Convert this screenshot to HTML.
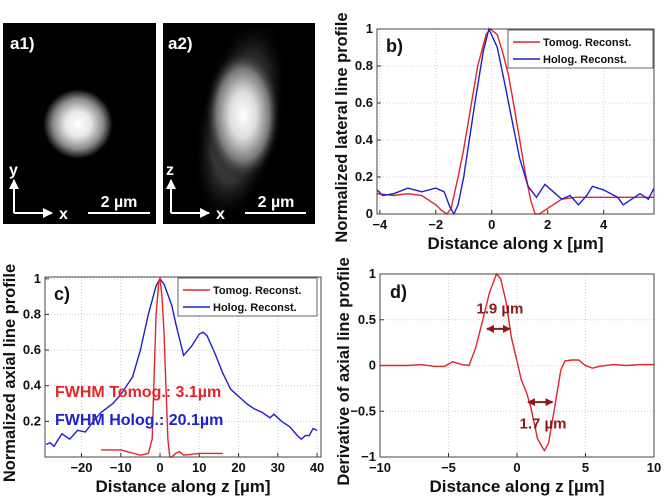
<!DOCTYPE html>
<html><head><meta charset="utf-8"><style>
html,body{margin:0;padding:0;background:#fff}
svg{display:block;font-family:"Liberation Sans",sans-serif}
.tk{font-size:13px;font-weight:bold;fill:#111}
.lab{font-size:17px;font-weight:bold;fill:#111}
.ylab{font-size:16.5px;font-weight:bold;fill:#111}
.lg{font-size:11px;font-weight:bold;fill:#111}
.pl{font-size:18px;font-weight:bold;fill:#111}
</style></head><body>
<svg id="fig" width="664" height="503" viewBox="0 0 664 503">
<defs>
<radialGradient id="g1"><stop offset="0" stop-color="#fff"/><stop offset="0.35" stop-color="#e8e8e8"/><stop offset="0.7" stop-color="#888"/><stop offset="0.9" stop-color="#222"/><stop offset="1" stop-color="#000" stop-opacity="0"/></radialGradient>
<radialGradient id="g2"><stop offset="0" stop-color="#fff"/><stop offset="0.35" stop-color="#ddd"/><stop offset="0.7" stop-color="#777"/><stop offset="1" stop-color="#000" stop-opacity="0"/></radialGradient>
<radialGradient id="g3"><stop offset="0" stop-color="#666"/><stop offset="0.6" stop-color="#333"/><stop offset="1" stop-color="#000" stop-opacity="0"/></radialGradient>
<clipPath id="c1"><rect x="3" y="23" width="153" height="201"/></clipPath>
<clipPath id="c2"><rect x="163" y="23" width="152" height="201"/></clipPath>
<marker id="ah" viewBox="0 0 10 10" refX="9" refY="5" markerWidth="5" markerHeight="5" orient="auto-start-reverse"><path d="M0,0L10,5L0,10z" fill="#fff"/></marker>
<marker id="ar" viewBox="0 0 10 10" refX="9" refY="5" markerWidth="4" markerHeight="4" orient="auto-start-reverse"><path d="M0,0L10,5L0,10z" fill="#8b1a1a"/></marker>
</defs>
<g>
<rect x="3" y="23" width="153" height="201" fill="#000"/>
<g clip-path="url(#c1)"><circle cx="78" cy="124" r="36" fill="url(#g1)"/></g>
<text x="10" y="49" fill="#fff" font-size="17" font-weight="bold">a1)</text>
<line x1="14" y1="213" x2="14" y2="180" stroke="#fff" stroke-width="2" marker-end="url(#ah)"/>
<line x1="14" y1="213" x2="52" y2="213" stroke="#fff" stroke-width="2" marker-end="url(#ah)"/>
<text x="9" y="175" fill="#fff" font-size="16" font-weight="bold">y</text>
<text x="59" y="219" fill="#fff" font-size="16" font-weight="bold">x</text>
<line x1="88" y1="213" x2="150" y2="213" stroke="#fff" stroke-width="2"/>
<text x="119" y="207" fill="#fff" font-size="16" font-weight="bold" text-anchor="middle">2 µm</text>
</g>
<g>
<rect x="163" y="23" width="152" height="201" fill="#000"/>
<g clip-path="url(#c2)">
<ellipse cx="240" cy="120" rx="42" ry="105" fill="url(#g3)" transform="rotate(12 240 120)"/>
<ellipse cx="243" cy="115" rx="38" ry="66" fill="url(#g2)"/>
</g>
<text x="168" y="49" fill="#fff" font-size="17" font-weight="bold">a2)</text>
<line x1="171" y1="213" x2="171" y2="180" stroke="#fff" stroke-width="2" marker-end="url(#ah)"/>
<line x1="171" y1="213" x2="209" y2="213" stroke="#fff" stroke-width="2" marker-end="url(#ah)"/>
<text x="166" y="175" fill="#fff" font-size="16" font-weight="bold">z</text>
<text x="216" y="219" fill="#fff" font-size="16" font-weight="bold">x</text>
<line x1="245" y1="213" x2="306" y2="213" stroke="#fff" stroke-width="2"/>
<text x="276" y="207" fill="#fff" font-size="16" font-weight="bold" text-anchor="middle">2 µm</text>
</g>
</svg>
<script>
// Panel b data
const bRedX=[-4.1,-3.5,-3,-2.5,-2,-1.8,-1.6,-1.45,-1.2,-1,-0.7,-0.5,-0.2,-0.05,0.2,0.4,0.6,0.8,1,1.2,1.4,1.55,1.7,2,2.5,3,4,5,5.8];
const bRedY=[0.11,0.10,0.11,0.10,0.05,0.02,0,0.03,0.2,0.35,0.62,0.8,0.97,1,0.97,0.87,0.75,0.58,0.4,0.22,0.07,0,0,0.03,0.08,0.09,0.09,0.09,0.09];
const bBlueX=[-4.1,-3.9,-3.5,-3,-2.5,-2,-1.7,-1.5,-1.35,-1.2,-1,-0.8,-0.6,-0.3,-0.1,0.2,0.5,0.8,1,1.3,1.6,1.9,2.2,2.5,2.8,3.1,3.4,3.6,4,4.5,4.7,5,5.3,5.6,5.8];
const bBlueY=[0.13,0.10,0.11,0.14,0.12,0.14,0.12,0.04,0,0.05,0.2,0.4,0.6,0.88,1,0.9,0.68,0.45,0.3,0.15,0.09,0.16,0.12,0.08,0.1,0.05,0.1,0.15,0.13,0.09,0.05,0.08,0.11,0.08,0.14];
const bXTicks=[-4,-2,0,2,4];
const bYTicks=[0,0.2,0.4,0.6,0.8,1];
// Panel c data
const cRedX=[-15,-10,-5,-3,-2,-1.5,-1,-0.3,0,0.5,1,1.5,2,2.5,3,4,5,6,10,16];
const cRedY=[0.04,0.04,0.01,0.02,0.1,0.45,0.8,0.99,1,0.9,0.7,0.4,0.1,0,0,0.02,0.03,0.01,0.02,0.02];
const cBlueX=[-29,-28,-27,-25,-23,-21,-19,-17,-15,-12,-10,-7,-5,-3,-1,0,1,3,4,6,8,10,11,12,14,16,18,20,22,24,26,28,29,31,33,35,36,37,38,39,40];
const cBlueY=[0.07,0.08,0.06,0.13,0.1,0.15,0.14,0.2,0.25,0.3,0.35,0.45,0.6,0.8,0.96,1,0.97,0.85,0.75,0.57,0.62,0.69,0.70,0.68,0.58,0.47,0.38,0.34,0.3,0.27,0.25,0.22,0.24,0.2,0.17,0.12,0.10,0.12,0.12,0.16,0.15];
const cXTicks=[-20,-10,0,10,20,30,40];
const cYTicks=[0.2,0.4,0.6,0.8,1];
// Panel d data
const dX=[-10,-8,-7,-6,-5.3,-4.7,-4,-3.5,-3,-2.5,-2,-1.5,-1.2,-0.8,-0.4,0,0.3,0.7,1,1.5,2,2.3,2.7,3.2,3.5,4,4.5,5,5.5,6,7,8,9,10];
const dY=[0,0,0.01,-0.01,-0.01,0.04,0.01,0,0.2,0.5,0.8,1.0,0.95,0.7,0.3,0.05,-0.15,-0.3,-0.45,-0.8,-0.93,-0.85,-0.5,-0.05,0.05,0.06,0.06,0,-0.03,-0.01,0.01,0,0.01,0.01];
const dXTicks=[-10,-5,0,5,10];
const dYTicks=[-1,-0.5,0,0.5,1];

const NS="http://www.w3.org/2000/svg";
const svg=document.getElementById('fig');
function el(t,a,p,txt){const e=document.createElementNS(NS,t);for(const k in a)e.setAttribute(k,a[k]);if(txt!==undefined)e.textContent=txt;(p||svg).appendChild(e);return e;}
function panel(name,x0,x1,y0,y1,xmin,xmax,ymin,ymax,xt,yt,xlab,ylab,ycx){
  const g=el('g',{});
  
  
  const sx=v=>x0+(v-xmin)/(xmax-xmin)*(x1-x0);
  const sy=v=>y1-(v-ymin)/(ymax-ymin)*(y1-y0);
  el('rect',{x:x0,y:y0,width:x1-x0,height:y1-y0,fill:'#fff'},g);
  xt.forEach(v=>{const l=el('line',{x1:sx(v),x2:sx(v),y1:y0,y2:y1,stroke:'#ccc','stroke-dasharray':'1,2'},g);
    
    const t=el('text',{x:sx(v),y:y1+15,class:'tk','text-anchor':'middle'},g,(v<0?'\u2212'+(-v):String(v)));
    
    el('line',{x1:sx(v),x2:sx(v),y1:y1,y2:y1-4,stroke:'#333'},g);});
  yt.forEach(v=>{const l=el('line',{x1:x0,x2:x1,y1:sy(v),y2:sy(v),stroke:'#ccc','stroke-dasharray':'1,2'},g);
    
    const t=el('text',{x:x0-4,y:sy(v)+4,class:'tk','text-anchor':'end'},g,(v<0?'\u2212'+(-v):String(v)));
    
    el('line',{x1:x0,x2:x0+4,y1:sy(v),y2:sy(v),stroke:'#333'},g);});
  const xl=el('text',{x:(x0+x1)/2,y:y1+35,class:'lab','text-anchor':'middle'},g,xlab);
  
  const yl=el('text',{x:0,y:0,class:'ylab','text-anchor':'middle',transform:`translate(${ycx},${(y0+y1)/2+6}) rotate(-90)`},g,ylab);
  
  return {g,sx,sy,box:()=>el('rect',{x:x0,y:y0,width:x1-x0,height:y1-y0,fill:'none',stroke:'#444'},g)};
}
function line(P,xs,ys,col,name){
  const d=xs.map((x,i)=>(i?'L':'M')+P.sx(x).toFixed(1)+','+P.sy(ys[i]).toFixed(1)).join('');
  const p=el('path',{d,fill:'none',stroke:col,'stroke-width':1.4},P.g);
  
  
}
function legend(P,x,y,w){
  const lg=el('g',{},P.g);
  
  
  el('rect',{x,y,width:w,height:38,fill:'#fff',stroke:'#666'},lg);
  [['Tomog. Reconst.','#e0262a',12],['Holog. Reconst.','#1f1fcc',29]].forEach(([t,c,dy])=>{
    const e=el('g',{},lg);
    
    
    el('line',{x1:x+5,x2:x+32,y1:y+dy,y2:y+dy,stroke:c,'stroke-width':1.5},e);
    el('text',{x:x+35,y:y+dy+4,class:'lg'},e,t);
  });
}
// b
const B=panel('chart-b-lateral-profile',377,654,29,214,-4.1,5.8,0,1,bXTicks,bYTicks,'Distance along x [µm]','Normalized lateral line profile',347);
line(B,bRedX,bRedY,'#e0262a','series-tomog');
line(B,bBlueX,bBlueY,'#1f1fcc','series-holog');
B.box();
el('text',{x:386,y:52,class:'pl'},B.g,'b)');
legend(B,508,30,145);
// c
const C=panel('chart-c-axial-profile',45,321,277,457,-29.3,41,0,1.01,cXTicks,cYTicks,'Distance along z [µm]','Normalized axial line profile',15);
line(C,cBlueX,cBlueY,'#1f1fcc','series-holog');
line(C,cRedX,cRedY,'#e0262a','series-tomog');
C.box();
el('text',{x:54,y:300,class:'pl'},C.g,'c)');
legend(C,178,278,139);
el('text',{x:55,y:397,'font-size':'16','font-weight':'bold',fill:'#e0262a'},C.g,'FWHM Tomog.: 3.1µm');
el('text',{x:55,y:425,'font-size':'16','font-weight':'bold',fill:'#1f1fcc'},C.g,'FWHM Holog.: 20.1µm');
// d
const D=panel('chart-d-derivative',380,654,274,457,-10,10,-1,1,dXTicks,dYTicks,'Distance along z [µm]','Derivative of axial line profile',349);
line(D,dX,dY,'#e0262a','series-derivative');
D.box();
el('text',{x:390,y:298,class:'pl'},D.g,'d)');
const a1=el('line',{x1:D.sx(-2.2),x2:D.sx(-0.5),y1:D.sy(0.4),y2:D.sy(0.4),stroke:'#8b1a1a','stroke-width':2,'marker-start':'url(#ar)','marker-end':'url(#ar)'},D.g);

el('text',{x:D.sx(-1.25),y:D.sy(0.57),'font-size':'15','font-weight':'bold',fill:'#8b1a1a','text-anchor':'middle'},D.g,'1.9 µm');
const a2=el('line',{x1:D.sx(0.8),x2:D.sx(2.6),y1:D.sy(-0.4),y2:D.sy(-0.4),stroke:'#8b1a1a','stroke-width':2,'marker-start':'url(#ar)','marker-end':'url(#ar)'},D.g);

el('text',{x:D.sx(1.9),y:D.sy(-0.69),'font-size':'15','font-weight':'bold',fill:'#8b1a1a','text-anchor':'middle'},D.g,'1.7 µm');
</script>
</body></html>
